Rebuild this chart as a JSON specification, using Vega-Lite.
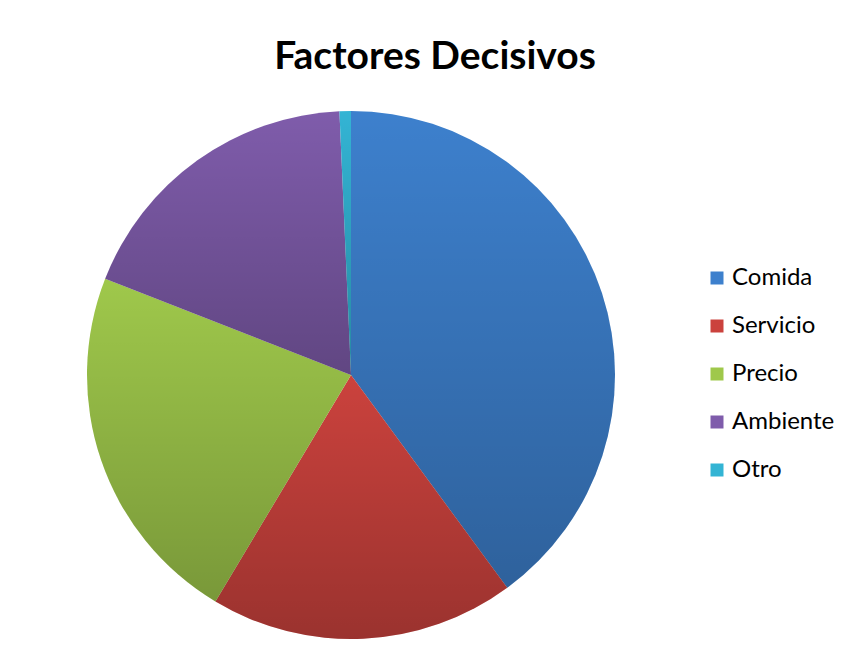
{
  "$schema": "https://vega.github.io/schema/vega-lite/v6.json",
  "width": 528,
  "height": 528,
  "autosize": {"type": "none"},
  "padding": {"left": 87, "top": 111, "right": 237, "bottom": 27},
  "background": "white",
  "title": {
    "text": "Factores Decisivos",
    "font": "Lato",
    "fontSize": 39,
    "fontWeight": "bold",
    "color": "#000000",
    "anchor": "middle",
    "dx": 84,
    "offset": 34
  },
  "data": {
    "values": [
      {"factor": "Comida", "valor": 40.0, "orden": 1},
      {"factor": "Servicio", "valor": 18.7, "orden": 2},
      {"factor": "Precio", "valor": 22.4, "orden": 3},
      {"factor": "Ambiente", "valor": 18.4, "orden": 4},
      {"factor": "Otro", "valor": 0.7, "orden": 5}
    ]
  },
  "layer": [
    {
      "mark": {"type": "arc", "outerRadius": 264, "strokeWidth": 0},
      "encoding": {
        "theta": {"field": "valor", "type": "quantitative", "stack": true},
        "order": {"field": "orden", "type": "quantitative"},
        "color": {
          "field": "factor",
          "type": "nominal",
          "sort": ["Comida", "Servicio", "Precio", "Ambiente", "Otro"],
          "scale": {
            "domain": ["Comida", "Servicio", "Precio", "Ambiente", "Otro"],
            "range": ["#3d80cd", "#cb423d", "#9fc84b", "#7f5cab", "#33b4d4"]
          },
          "legend": {
            "title": null,
            "orient": "none",
            "legendX": 618,
            "legendY": 155,
            "padding": 0,
            "symbolType": "square",
            "symbolSize": 169,
            "symbolStrokeWidth": 0,
            "symbolOpacity": 1,
            "labelFont": "Lato",
            "labelFontSize": 24,
            "labelColor": "#000000",
            "labelOffset": 3,
            "rowPadding": 24
          }
        }
      }
    },
    {
      "mark": {
        "type": "arc",
        "outerRadius": 264,
        "strokeWidth": 0,
        "fill": {
          "gradient": "linear",
          "x1": 0, "y1": 0, "x2": 0, "y2": 1,
          "stops": [
            {"offset": 0, "color": "rgba(0,0,0,0)"},
            {"offset": 1, "color": "rgba(0,0,0,0.24)"}
          ]
        }
      },
      "encoding": {
        "theta": {"field": "valor", "type": "quantitative", "stack": true},
        "order": {"field": "orden", "type": "quantitative"},
        "detail": {"field": "factor", "type": "nominal"}
      }
    }
  ],
  "config": {"view": {"stroke": null}}
}
